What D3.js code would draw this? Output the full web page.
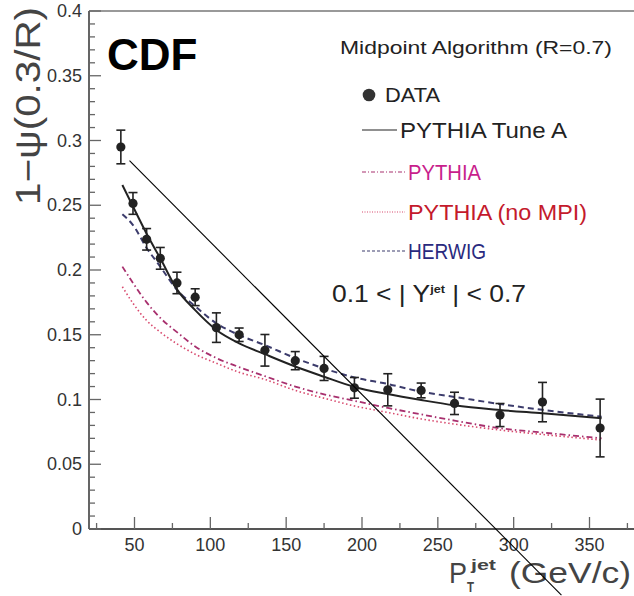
<!DOCTYPE html>
<meta charset="utf-8">
<script src="https://d3js.org/d3.v7.min.js"></script>
<style>
  body { margin: 0; background: #fff; }
  text { font-family: "Liberation Sans", Arial, sans-serif; }
</style>
<svg width="634" height="596"></svg>

<script>
    // measured data points
    const ptJet = [41, 49, 58, 67, 78, 90, 104, 119, 136, 156, 175, 195, 217, 239, 261, 291, 319, 357];
    const psiData = [0.295, 0.2514, 0.2237, 0.209, 0.190, 0.179, 0.1555, 0.150, 0.138, 0.130, 0.124, 0.109, 0.1075, 0.107, 0.097, 0.088, 0.098, 0.078];
    const psiErr = [0.013, 0.0084, 0.0083, 0.0084, 0.0083, 0.0065, 0.0114, 0.0052, 0.0122, 0.007, 0.0093, 0.008, 0.0124, 0.0057, 0.0086, 0.0089, 0.0152, 0.0223];

    // model curves, read at these pt values
    const ptModel = [42, 49, 58, 67, 78, 90, 104, 119, 136, 156, 175, 195, 217, 239, 261, 291, 319, 358];
    const tuneA = [0.2656, 0.249, 0.228, 0.209, 0.185, 0.169, 0.1537, 0.1434, 0.1350, 0.1255, 0.1176, 0.1097, 0.1042, 0.0996, 0.0955, 0.0919, 0.0893, 0.0855];
    const herwig = [0.243, 0.2347, 0.217, 0.2026, 0.1846, 0.172, 0.1588, 0.1498, 0.142, 0.132, 0.124, 0.117, 0.112, 0.106, 0.102, 0.0965, 0.092, 0.0867];
    const pythia = [0.2026, 0.190, 0.175, 0.163, 0.152, 0.141, 0.132, 0.125, 0.118, 0.110, 0.104, 0.099, 0.0935, 0.0885, 0.0837, 0.0778, 0.0745, 0.070];
    const pythiaNoMPI = [0.1871, 0.1743, 0.161, 0.152, 0.143, 0.135, 0.128, 0.121, 0.1155, 0.107, 0.101, 0.095, 0.090, 0.085, 0.081, 0.0764, 0.073, 0.0687];

    const yTicks = [0, 0.05, 0.1, 0.15, 0.2, 0.25, 0.3, 0.35, 0.4];
    const xTicks = [50, 100, 150, 200, 250, 300, 350];

    // the thin annotation line drawn over the plot (data coords)
    const arrowLine = [[46.7, 0.2844], [331.5, -0.051]];

    const svg = d3.select("svg");

    const x = d3.scaleLinear().domain([20, 380]).range([89, 635]);
    const y = d3.scaleLinear().domain([0, 0.4]).range([529, 11]);

    // frame
    svg.append("line")
        .attr("x1", 89).attr("x2", 634).attr("y1", y(0.4)).attr("y2", y(0.4))
        .attr("stroke", "#999").attr("stroke-width", 2);
    svg.append("line")
        .attr("x1", 89).attr("x2", 89).attr("y1", y(0.4)).attr("y2", y(0))
        .attr("stroke", "#555").attr("stroke-width", 1.8);
    svg.append("line")
        .attr("x1", 89).attr("x2", 634).attr("y1", y(0)).attr("y2", y(0))
        .attr("stroke", "#555").attr("stroke-width", 1.8);

    // y ticks (inside)
    const yMinor = d3.range(0, 0.4001, 0.01);
    svg.append("g")
        .selectAll("line")
        .data(yMinor)
        .enter()
        .append("line")
        .attr("x1", 89)
        .attr("x2", (d, i) => i % 5 === 0 ? 101 : 95)
        .attr("y1", d => y(d)).attr("y2", d => y(d))
        .attr("stroke", "#666").attr("stroke-width", 1.3);

    svg.append("g")
        .selectAll("text")
        .data(yTicks)
        .enter()
        .append("text")
        .attr("x", 82)
        .attr("y", d => y(d) + 6)
        .attr("text-anchor", "end")
        .attr("fill", "#333")
        .style("font-size", "18px")
        .text(d => d3.format("")(d));

    // x ticks (inside)
    const xMinor = d3.range(25, 380, 25);
    svg.append("g")
        .selectAll("line")
        .data(xMinor)
        .enter()
        .append("line")
        .attr("x1", d => x(d)).attr("x2", d => x(d))
        .attr("y1", y(0))
        .attr("y2", d => d % 50 === 0 ? y(0) - 12 : y(0) - 6)
        .attr("stroke", "#666").attr("stroke-width", 1.3);

    svg.append("g")
        .selectAll("text")
        .data(xTicks)
        .enter()
        .append("text")
        .attr("x", d => x(d))
        .attr("y", 551)
        .attr("text-anchor", "middle")
        .attr("fill", "#333")
        .style("font-size", "18px")
        .text(d => d);

    // model curves
    const line = vals => d3.line()
        .x((d, i) => x(ptModel[i]))
        .y(d => y(d))
        .curve(d3.curveMonotoneX)(vals);

    svg.append("path").attr("d", line(pythiaNoMPI))
        .attr("fill", "none").attr("stroke", "#d84a6e").attr("stroke-width", 1.6)
        .attr("stroke-dasharray", "1.5,2.5");
    svg.append("path").attr("d", line(pythia))
        .attr("fill", "none").attr("stroke", "#a8306e").attr("stroke-width", 1.8)
        .attr("stroke-dasharray", "6,3,1.5,3");
    svg.append("path").attr("d", line(herwig))
        .attr("fill", "none").attr("stroke", "#3c3c6c").attr("stroke-width", 2)
        .attr("stroke-dasharray", "6,4");
    svg.append("path").attr("d", line(tuneA))
        .attr("fill", "none").attr("stroke", "#222").attr("stroke-width", 2);

    // data with error bars
    const pts = ptJet.map((p, i) => ({p: p, v: psiData[i], e: psiErr[i]}));
    const eb = svg.append("g").attr("stroke", "#222").attr("stroke-width", 1.6);
    eb.selectAll(".v").data(pts).enter().append("line")
        .attr("x1", d => x(d.p)).attr("x2", d => x(d.p))
        .attr("y1", d => y(d.v - d.e)).attr("y2", d => y(d.v + d.e));
    eb.selectAll(".t").data(pts).enter().append("line")
        .attr("x1", d => x(d.p) - 4.5).attr("x2", d => x(d.p) + 4.5)
        .attr("y1", d => y(d.v + d.e)).attr("y2", d => y(d.v + d.e));
    eb.selectAll(".b").data(pts).enter().append("line")
        .attr("x1", d => x(d.p) - 4.5).attr("x2", d => x(d.p) + 4.5)
        .attr("y1", d => y(d.v - d.e)).attr("y2", d => y(d.v - d.e));
    svg.append("g").selectAll("circle").data(pts).enter().append("circle")
        .attr("cx", d => x(d.p)).attr("cy", d => y(d.v)).attr("r", 4.6)
        .attr("fill", "#222");

    // legend
    function label(txt, lx, ly, size, len, color) {
        return svg.append("text")
            .attr("x", lx).attr("y", ly)
            .attr("fill", color)
            .style("font-size", size + "px")
            .attr("textLength", len)
            .attr("lengthAdjust", "spacingAndGlyphs")
            .text(txt);
    }
    label("Midpoint Algorithm (R=0.7)", 340, 54, 19, 272, "#222");

    svg.append("circle").attr("cx", 369).attr("cy", 95).attr("r", 6.3).attr("fill", "#333");
    label("DATA", 385, 102, 21, 55, "#222");

    const legendRows = [
        {name: "PYTHIA Tune A", cy: 130, color: "#222", lc: "#222", dash: null, len: 167, x0: 400},
        {name: "PYTHIA", cy: 172, color: "#c81e8c", lc: "#a8306e", dash: "4,2,1,2", len: 73, x0: 408},
        {name: "PYTHIA (no MPI)", cy: 212, color: "#c41a2c", lc: "#d84a6e", dash: "1,1.5", len: 179, x0: 408},
        {name: "HERWIG", cy: 251, color: "#2a2a7e", lc: "#3c3c6c", dash: "3,2", len: 78, x0: 408}
    ];
    legendRows.forEach(r => {
        svg.append("line")
            .attr("x1", 362).attr("x2", r.x0 - 3)
            .attr("y1", r.cy).attr("y2", r.cy)
            .attr("stroke", r.lc).attr("stroke-width", 1.2)
            .attr("stroke-dasharray", r.dash);
        label(r.name, r.x0, r.cy + 8, 22, r.len, r.color);
    });

    // rapidity range
    const yr = svg.append("g").attr("transform", "translate(332,302) scale(1.15,1)");
    const yt = yr.append("text").attr("fill", "#222").style("font-size", "23px");
    yt.append("tspan").text("0.1 < | Y");
    yt.append("tspan").attr("dy", -9).style("font-size", "11px").style("font-weight", "bold").text("jet");
    yt.append("tspan").attr("dy", 9).text(" | < 0.7");

    // CDF
    svg.append("text")
        .attr("x", 107).attr("y", 70)
        .style("font-size", "44px").style("font-weight", "bold")
        .attr("fill", "#000")
        .text("CDF");

    // axis titles
    svg.append("text")
        .attr("transform", "translate(40,205) rotate(-90)")
        .attr("fill", "#444")
        .style("font-size", "35px")
        .attr("textLength", 198)
        .attr("lengthAdjust", "spacingAndGlyphs")
        .text("1\u2212\u03c8(0.3/R)");

    label("P", 449, 583, 29, 18, "#444");
    label("T", 467, 592, 14, 7, "#444").style("font-weight", "bold");
    label("jet", 471, 570, 15, 25, "#444").style("font-weight", "bold");
    label("(GeV/c)", 509, 583, 30, 122, "#444");

    // annotation line
    svg.append("line")
        .attr("x1", x(arrowLine[0][0])).attr("y1", y(arrowLine[0][1]))
        .attr("x2", x(arrowLine[1][0])).attr("y2", y(arrowLine[1][1]))
        .attr("stroke", "#000").attr("stroke-width", 1.1);
</script>
